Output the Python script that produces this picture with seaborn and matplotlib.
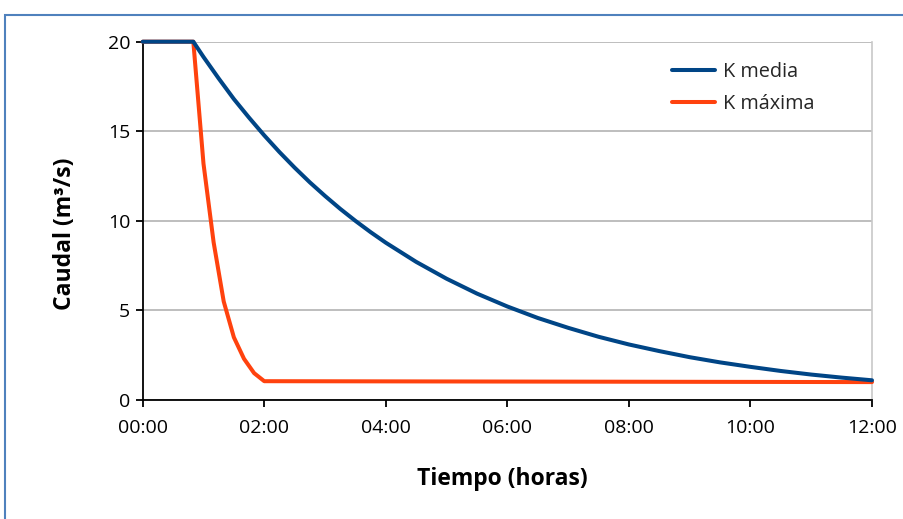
import matplotlib
matplotlib.use("Agg")
import matplotlib.pyplot as plt
import seaborn as sns
import pandas as pd
from matplotlib.patches import Rectangle
from matplotlib.ticker import FuncFormatter

# --- data ---
t_media = [0, 0.833, 1.0, 1.25, 1.5, 1.75, 2.0, 2.25, 2.5, 2.75, 3.0, 3.25, 3.5,
           3.75, 4.0, 4.5, 5.0, 5.5, 6.0, 6.5, 7.0, 7.5, 8.0, 8.5, 9.0, 9.5,
           10.0, 10.5, 11.0, 11.5, 12.0]
q_media = [20, 20, 19.15, 17.95, 16.8, 15.76, 14.77, 13.84, 12.97, 12.15, 11.39,
           10.67, 10.0, 9.37, 8.78, 7.71, 6.77, 5.94, 5.22, 4.58, 4.03, 3.53,
           3.10, 2.73, 2.39, 2.10, 1.85, 1.62, 1.42, 1.25, 1.10]
t_max = [0, 0.833, 1.0, 1.167, 1.333, 1.5, 1.667, 1.833, 2.0, 12.0]
q_max = [20, 20, 13.2, 8.8, 5.5, 3.5, 2.3, 1.5, 1.05, 1.0]
x_ticks = [0, 2, 4, 6, 8, 10, 12]
y_ticks = [0, 5, 10, 15, 20]
serie_media = "K media"
serie_max = "K máxima"
colors = {serie_media: "#004586", serie_max: "#ff420e"}

df_media = pd.DataFrame({"t": t_media, "q": q_media, "serie": serie_media})
df_max = pd.DataFrame({"t": t_max, "q": q_max, "serie": serie_max})

sns.set_theme(style="white")
plt.rcParams["font.family"] = ["Open Sans", "DejaVu Sans"]

W, H = 904, 519
fig = plt.figure(figsize=(W / 100, H / 100), dpi=100)
fig.patch.set_facecolor("white")
ax = fig.add_axes([142.7 / W, 1 - 400 / H, (872 - 142.7) / W, (400 - 41.7) / H])

# outer border (cropped frame)
fig.patches.append(Rectangle((5 / W, -0.1), 1.2, 1.1 - 15 / H, transform=fig.transFigure,
                             fill=False, edgecolor="#4f81bd", linewidth=1.5, zorder=0))

sns.lineplot(data=df_max, x="t", y="q", color=colors[serie_max], linewidth=2.9,
             estimator=None, sort=False, ax=ax, label=serie_max, zorder=3, clip_on=False)
sns.lineplot(data=df_media, x="t", y="q", color=colors[serie_media], linewidth=2.9,
             estimator=None, sort=False, ax=ax, label=serie_media, zorder=4, clip_on=False)

ax.set_xlim(0, 12)
ax.set_ylim(0, 20)
ax.set_xticks(x_ticks)
ax.set_yticks(y_ticks)
ax.xaxis.set_major_formatter(FuncFormatter(lambda v, p: f"{int(v):02d}:00"))
ax.grid(axis="y", color="#b3b3b3", linewidth=1.2)
ax.set_axisbelow(True)
ax.spines["top"].set_visible(False)
ax.spines["right"].set_color("#c8c8c8")
ax.spines["right"].set_linewidth(1.2)
for s in ["left", "bottom"]:
    ax.spines[s].set_color("black")
    ax.spines[s].set_linewidth(1.3)
ax.tick_params(axis="both", which="both", direction="out", length=5, width=1.3,
               color="black", labelsize=14, labelcolor="black",
               bottom=True, left=True)
ax.tick_params(axis="x", pad=9)
ax.tick_params(axis="y", pad=4)

ax.set_xlabel("Tiempo (horas)", fontsize=16.5, fontweight="bold", color="black")
ax.set_ylabel("Caudal (m³/s)", fontsize=16.5, fontweight="bold", color="black")
ax.xaxis.set_label_coords((502.5 - 142.7) / 729.3, -(467 - 400) / 358.3)
ax.yaxis.set_label_coords((77 - 142.7) / 729.3, (400 - 234) / 358.3)

h, l = ax.get_legend_handles_labels()
order = [l.index(serie_media), l.index(serie_max)]
leg = ax.legend([h[i] for i in order], [l[i] for i in order], loc="upper left",
                bbox_to_anchor=((672 - 142.7) / 729.3, (400 - 62) / 358.3),
                frameon=False, fontsize=14.3, borderpad=0, borderaxespad=0,
                handlelength=2.16, handletextpad=0.4, labelspacing=0.6)

fig.savefig("out.png", dpi=100)
